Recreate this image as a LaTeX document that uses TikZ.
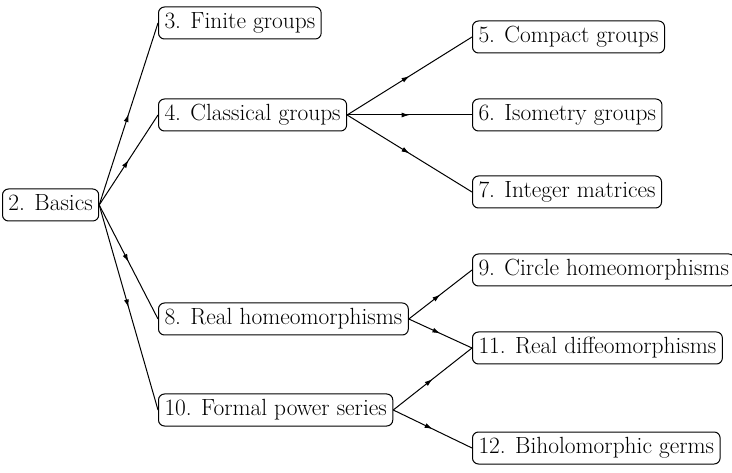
\documentclass[tikz,border=0pt]{standalone}
\usetikzlibrary{arrows.meta,decorations.markings}
\begin{document}
\begin{tikzpicture}[x=1pt,y=1pt,
 box/.style={draw,rounded corners=6pt,line width=1pt,inner xsep=6pt,inner ysep=0pt,minimum height=32pt,text height=16pt,text depth=5pt,anchor=west,font=\fontsize{23.4}{28}\selectfont},
 link/.style={line width=1pt,postaction={decorate},decoration={markings,mark=at position 0.5 with {\arrow{Latex[length=8pt,width=5pt]}}}}]
\useasboundingbox (0,0) rectangle (732,472);
\node[box] (b2) at (2,267) {2. Basics};
\node[box] (b3) at (158,449) {3. Finite groups};
\node[box] (b4) at (158,357) {4. Classical groups};
\node[box] (b5) at (472,435) {5. Compact groups};
\node[box] (b6) at (472,357) {6. Isometry groups};
\node[box] (b7) at (472,280) {7. Integer matrices};
\node[box] (b8) at (158,153) {8. Real homeomorphisms};
\node[box] (b9) at (472,202) {9. Circle homeomorphisms};
\node[box] (b10) at (158,62) {10. Formal power series};
\node[box] (b11) at (472,124) {11. Real diffeomorphisms};
\node[box] (b12) at (472,24) {12. Biholomorphic germs};
\draw[link] (b2.east) -- (b3.west);
\draw[link] (b2.east) -- (b4.west);
\draw[link] (b2.east) -- (b8.west);
\draw[link] (b2.east) -- (b10.west);
\draw[link] (b4.east) -- (b5.west);
\draw[link] (b4.east) -- (b6.west);
\draw[link] (b4.east) -- (b7.west);
\draw[link] (b8.east) -- (b9.west);
\draw[link] (b8.east) -- (b11.west);
\draw[link] (b10.east) -- (b11.west);
\draw[link] (b10.east) -- (b12.west);
\end{tikzpicture}
\end{document}
